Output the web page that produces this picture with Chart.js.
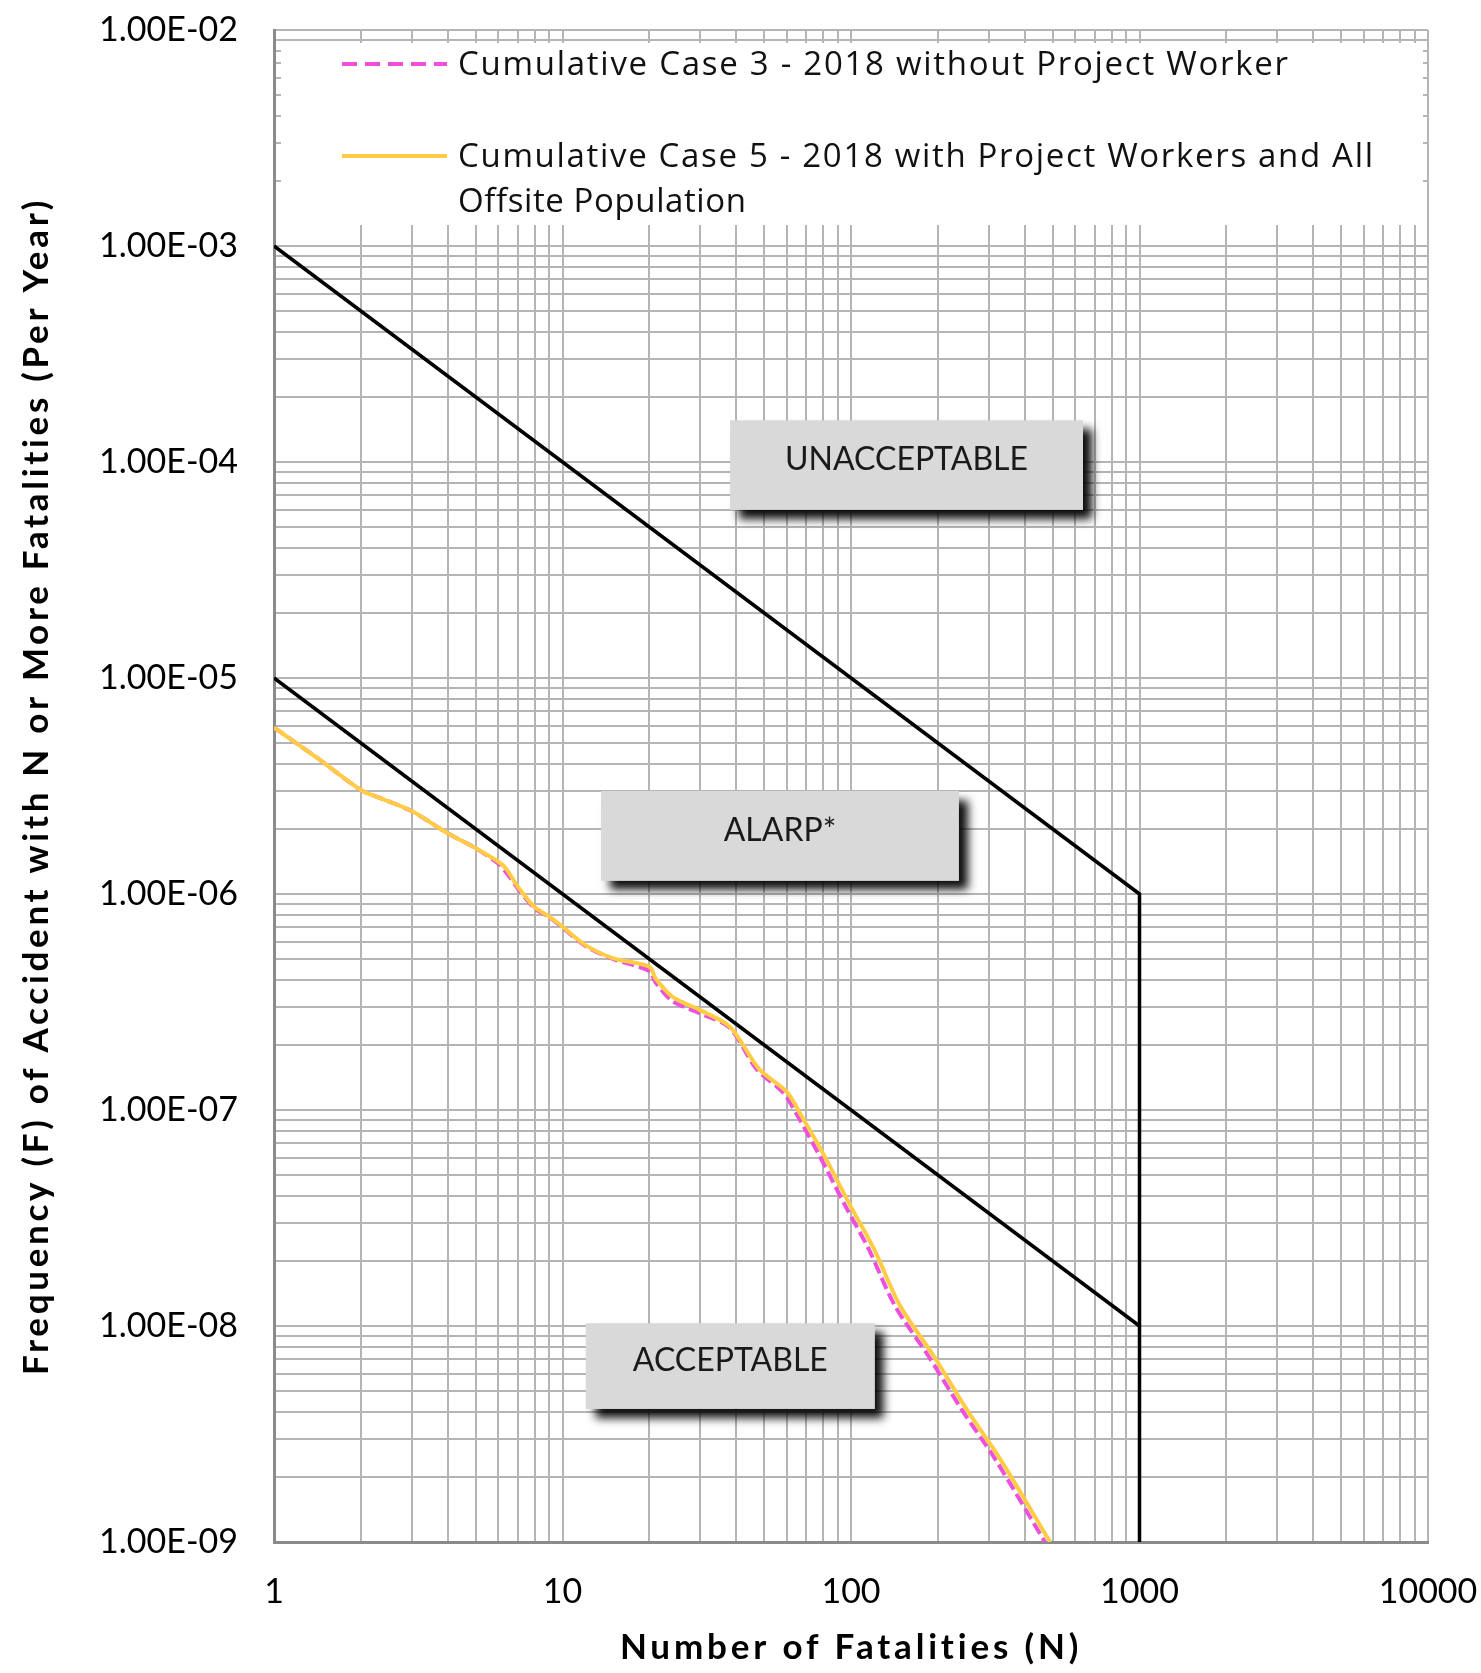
<!DOCTYPE html>
<html><head><meta charset="utf-8">
<script src="https://cdn.jsdelivr.net/npm/chart.js@4.4.1/dist/chart.umd.min.js"></script>
<style>html,body{margin:0;padding:0;background:#fff;} #wrap{width:1481px;height:1673px;position:relative;}</style>
</head><body><div id="wrap"><canvas id="c"></canvas></div>
<script>
// ---- data ----
const case5N = [1, 1.4, 2, 2.3, 3, 4, 5, 6, 6.4, 7, 8, 9, 10, 12, 15, 20, 21, 24, 30, 38, 48, 60, 67, 80, 100, 120, 148, 193, 252, 329, 490];
const case5F = [5.9e-6, 4.3e-6, 3.03e-6, 2.8e-6, 2.42e-6, 1.91e-6, 1.63e-6, 1.41e-6, 1.3e-6, 1.08e-6, 8.7e-7, 7.85e-7, 7.06e-7, 5.8e-7, 5.04e-7, 4.61e-7, 4.07e-7, 3.35e-7, 2.9e-7, 2.43e-7, 1.55e-7, 1.21e-7, 9.5e-8, 6.3e-8, 3.56e-8, 2.28e-8, 1.24e-8, 7.3e-9, 4.1e-9, 2.42e-9, 1e-9];
const case3N = [1, 1.4, 2, 2.3, 3, 4, 5, 6, 6.4, 7, 8, 9, 10, 12, 15, 20, 21, 24, 30, 38, 47, 58, 65, 77, 96, 115, 142, 185, 242, 316, 470];
const case3F = [5.9e-6, 4.3e-6, 3.03e-6, 2.8e-6, 2.42e-6, 1.91e-6, 1.63e-6, 1.38e-6, 1.25e-6, 1.06e-6, 8.6e-7, 7.8e-7, 7.0e-7, 5.75e-7, 5.0e-7, 4.4e-7, 3.9e-7, 3.2e-7, 2.8e-7, 2.4e-7, 1.55e-7, 1.21e-7, 9.5e-8, 6.3e-8, 3.56e-8, 2.28e-8, 1.24e-8, 7.3e-9, 4.1e-9, 2.42e-9, 1e-9];
const upperLimitN = [1, 1000, 1000];
const upperLimitF = [1e-3, 1e-6, 1e-9];
const lowerLimitN = [1, 1000];
const lowerLimitF = [1e-5, 1e-8];
const xTickValues = [1, 10, 100, 1000, 10000];
const xTickLabels = ['1', '10', '100', '1000', '10000'];
const yTickValues = [1e-9, 1e-8, 1e-7, 1e-6, 1e-5, 1e-4, 1e-3, 1e-2];
const yTickLabels = ['1.00E-09', '1.00E-08', '1.00E-07', '1.00E-06', '1.00E-05', '1.00E-04', '1.00E-03', '1.00E-02'];
const seriesNames = ['Cumulative Case 3 - 2018 without Project Worker', 'Cumulative Case 5 - 2018 with Project Workers and All', 'Offsite Population'];
const zoneLabels = ['UNACCEPTABLE', 'ALARP*', 'ACCEPTABLE'];
const xTitle = 'Number of Fatalities (N)';
const yTitle = 'Frequency (F) of Accident with N or More Fatalities (Per Year)';

// ---- layout / style config (not data) ----
const zoneBoxes = [
  {n0: 38.1, n1: 637, f0: 1.56e-4, f1: 6.0e-5},
  {n0: 13.6, n1: 236.7, f0: 3.0e-6, f1: 1.15e-6},
  {n0: 12.04, n1: 121, f0: 1.03e-8, f1: 4.13e-9}
];
const FONT = 'Lato, "Open Sans", sans-serif';
const LEGEND_FONT = '"Open Sans", Lato, sans-serif';
const MAGENTA = '#EE4FDC';
const YELLOW = '#FFCC44';
const GRID = '#b5b5b5';

const pts = (xs, ys) => xs.map((x, i) => ({x: x, y: ys[i]}));
function decadeTicks(minExp, maxExp) {
  const t = [];
  for (let e = minExp; e < maxExp; e++) for (let m = 1; m <= 9; m++) t.push({value: m * Math.pow(10, e)});
  t.push({value: Math.pow(10, maxExp)});
  return t;
}
function labelFor(v, vals, labs) {
  for (let i = 0; i < vals.length; i++) if (Math.abs(v - vals[i]) / vals[i] < 1e-6) return labs[i];
  return '';
}
function fitText(ctx, text, x, y, targetW, fontTpl, size) {
  ctx.font = fontTpl.replace('%s', size);
  const w = ctx.measureText(text).width;
  const sp = (targetW - w) / Math.max(1, text.length - 1);
  ctx.letterSpacing = sp + 'px';
  ctx.fillText(text, x, y);
  ctx.letterSpacing = '0px';
}

const overlay = {
  id: 'overlay',
  beforeDatasetsDraw(chart) {
    const {ctx, chartArea: a} = chart;
    ctx.save();
    ctx.fillStyle = '#fff';
    ctx.fillRect(a.left + 7, a.top + 13, a.right - a.left - 12, 182);
    ctx.restore();
  },
  afterDatasetsDraw(chart) {
    const {ctx, chartArea: a, scales} = chart;
    const xs = scales.x, ys = scales.y;
    zoneBoxes.forEach((b, i) => {
      const x0 = xs.getPixelForValue(b.n0), x1 = xs.getPixelForValue(b.n1);
      const y0 = ys.getPixelForValue(b.f0), y1 = ys.getPixelForValue(b.f1);
      ctx.save();
      ctx.shadowColor = 'rgba(0,0,0,0.95)';
      ctx.shadowBlur = 9;
      ctx.shadowOffsetX = 9;
      ctx.shadowOffsetY = 9;
      ctx.fillStyle = '#d9d9d9';
      ctx.fillRect(x0, y0, x1 - x0, y1 - y0);
      ctx.restore();
      ctx.save();
      ctx.fillStyle = '#1a1a1a';
      ctx.font = '32px ' + FONT;
      ctx.textAlign = 'center';
      ctx.textBaseline = 'middle';
      ctx.fillText(zoneLabels[i], (x0 + x1) / 2, (y0 + y1) / 2 - 5);
      ctx.restore();
    });
    // legend
    const lx0 = a.left + 68, lx1 = a.left + 173, tx = a.left + 184;
    ctx.save();
    ctx.lineWidth = 4;
    ctx.strokeStyle = MAGENTA;
    ctx.setLineDash([15, 8]);
    ctx.beginPath(); ctx.moveTo(lx0, a.top + 34); ctx.lineTo(lx1, a.top + 34); ctx.stroke();
    ctx.setLineDash([]);
    ctx.strokeStyle = YELLOW;
    ctx.beginPath(); ctx.moveTo(lx0, a.top + 126); ctx.lineTo(lx1, a.top + 126); ctx.stroke();
    ctx.fillStyle = '#111';
    ctx.textBaseline = 'alphabetic';
    ctx.textAlign = 'left';
    fitText(ctx, seriesNames[0], tx, a.top + 45, 830, '%spx ' + LEGEND_FONT, 33);
    fitText(ctx, seriesNames[1], tx, a.top + 137, 915, '%spx ' + LEGEND_FONT, 33);
    ctx.font = '33px ' + LEGEND_FONT;
    ctx.letterSpacing = '0.6px';
    ctx.fillText(seriesNames[2], tx, a.top + 182);
    ctx.letterSpacing = '0px';
    ctx.restore();
  },
  afterDraw(chart) {
    const {ctx, chartArea: a} = chart;
    ctx.save();
    ctx.fillStyle = '#000';
    ctx.textAlign = 'center';
    ctx.textBaseline = 'middle';
    fitText(ctx, xTitle, (a.left + a.right) / 2, 1648, 459, 'bold %spx ' + FONT, 35);
    ctx.translate(37, (a.top + a.bottom) / 2);
    ctx.rotate(-Math.PI / 2);
    fitText(ctx, yTitle, 0, 0, 1175, 'bold %spx ' + FONT, 35);
    ctx.restore();
  }
};

new Chart(document.getElementById('c'), {
  type: 'line',
  data: {
    datasets: [
      {label: seriesNames[1] + ' ' + seriesNames[2], data: pts(case5N, case5F), borderColor: YELLOW, borderWidth: 4, pointRadius: 0, tension: 0.3, fill: false},
      {label: seriesNames[0], data: pts(case3N, case3F), borderColor: MAGENTA, borderWidth: 4, borderDash: [12, 5], pointRadius: 0, tension: 0.3, fill: false},
      {label: 'Upper limit', data: pts(upperLimitN, upperLimitF), borderColor: '#000', borderWidth: 3.5, pointRadius: 0, tension: 0, fill: false},
      {label: 'Lower limit', data: pts(lowerLimitN, lowerLimitF), borderColor: '#000', borderWidth: 3.5, pointRadius: 0, tension: 0, fill: false}
    ]
  },
  options: {
    responsive: true,
    maintainAspectRatio: false,
    animation: false,
    events: [],
    layout: {padding: {left: 0, right: 53, top: 30, bottom: 0}},
    plugins: {legend: {display: false}, tooltip: {enabled: false}},
    scales: {
      x: {
        type: 'logarithmic', min: 1, max: 10000,
        afterBuildTicks: s => { s.ticks = decadeTicks(0, 4); },
        afterFit: s => { s.height = 131; s.paddingLeft = 0; s.paddingRight = 0; },
        grid: {color: GRID, lineWidth: 2, drawTicks: false},
        border: {color: '#8a8a8a', width: 3},
        ticks: {autoSkip: false, maxRotation: 0, minRotation: 0, padding: 30, color: '#000', font: {family: FONT, size: 34},
          callback: v => labelFor(v, xTickValues, xTickLabels)},
        title: {display: false}
      },
      y: {
        type: 'logarithmic', min: 1e-9, max: 1e-2,
        afterBuildTicks: s => { s.ticks = decadeTicks(-9, -2); },
        afterFit: s => { s.width = 274; s.paddingTop = 0; s.paddingBottom = 0; },
        grid: {color: GRID, lineWidth: 2, drawTicks: false},
        border: {color: '#8a8a8a', width: 3},
        ticks: {autoSkip: false, padding: 36, color: '#000', font: {family: FONT, size: 34},
          callback: v => labelFor(v, yTickValues, yTickLabels)},
        title: {display: false}
      }
    }
  },
  plugins: [overlay]
});
</script></body></html>
